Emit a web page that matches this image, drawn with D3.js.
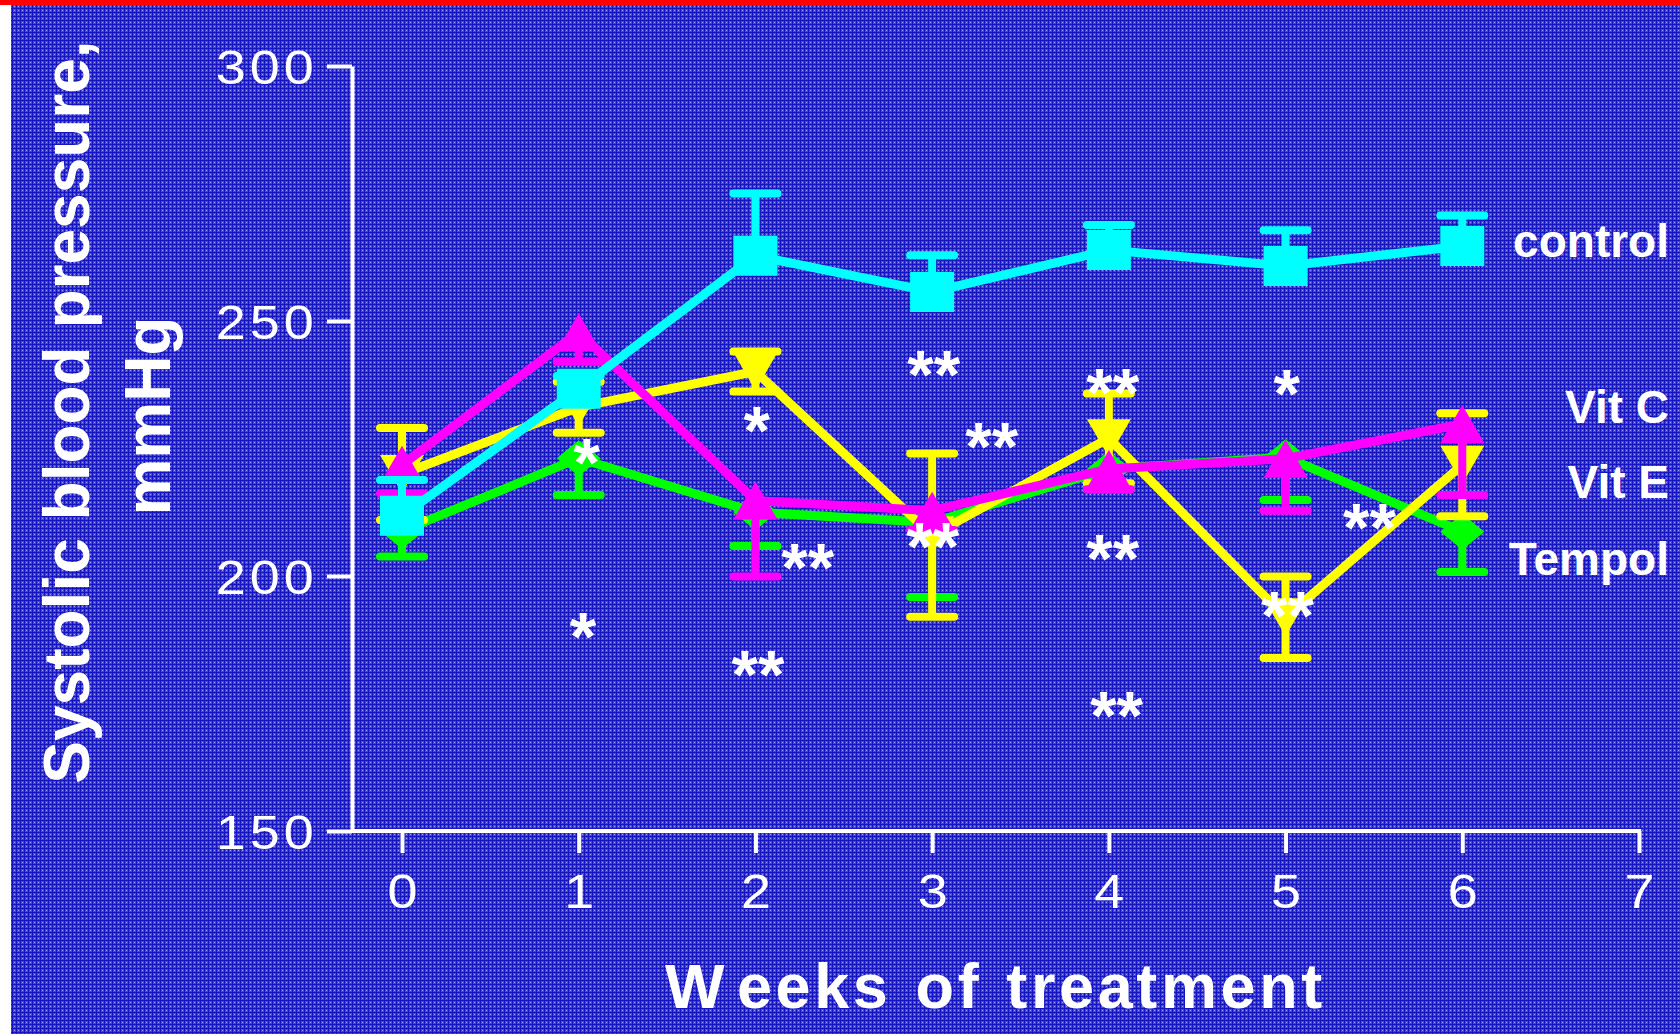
<!DOCTYPE html>
<html>
<head>
<meta charset="utf-8">
<script src="https://cdn.jsdelivr.net/npm/d3@7"></script>
<style>
  html, body { margin: 0; padding: 0; background: #ffffff; }
  svg { display: block; }
</style>
</head>
<body>
<svg id="chart" width="1680" height="1034"></svg>
<script>
// Systolic blood pressure (mmHg, mean ± SEM) over weeks of treatment
const weeks = [0, 1, 2, 3, 4, 5, 6];

const control    = [211.8, 236.7, 262.8, 255.7, 263.9, 260.8, 264.7];
const controlSem = [7.0, 2.5, 12.2, 7.2, 4.9, 7.0, 6.0];

const vitC    = [221.8, 247.8, 214.8, 212.8, 221.0, 223.0, 229.8];
const vitCSem = [5.6, 5.8, 14.9, 3.8, 4.0, 10.2, 13.9];

const vitE    = [220.0, 233.1, 240.1, 208.0, 227.0, 191.9, 221.8];
const vitESem = [9.0, 5.0, 3.9, 16.0, 8.8, 8.0, 10.1];

const tempol    = [208.8, 223.1, 212.5, 210.5, 221.0, 223.3, 208.7];
const tempolSem = [5.0, 7.2, 6.6, 14.6, 4.0, 8.4, 7.9];

// Series names and the mmHg level each name sits at, right of the plot
const seriesNames = ["control", "Vit C", "Vit E", "Tempol"];
const nameLevels  = [262.5, 230.0, 215.3, 200.2];

// Significance marks: week position, mmHg level, text
const sigWeeks  = [1.046, 1.024, 2.008, 2.296, 2.014, 3.009, 3.337, 3.003, 4.022, 4.022, 4.044, 5.006, 5.011, 5.475];
const sigLevels = [225.1, 191.0, 231.4, 204.5, 183.5, 242.4, 228.2, 208.6, 206.3, 238.8, 175.5, 238.6, 195.1, 212.4];
const sigText   = ["*", "*", "*", "**", "**", "**", "**", "**", "**", "**", "**", "*", "**", "**"];

const yTicks = [150, 200, 250, 300];
const xTicks = [0, 1, 2, 3, 4, 5, 6, 7];

// ---------------------------------------------------------------
const W = 1680, H = 1034;
const FONT = "'Liberation Sans', Arial, Helvetica, sans-serif";
const svg = d3.select("#chart");

const x = d3.scaleLinear().domain([0, 7]).range([402, 1639]);
const y = d3.scaleLinear().domain([150, 300]).range([831, 66]);
const yAxisX = x(0) - 50;

// backdrop: white strip, red top rule, textured blue field
const defs = svg.append("defs");
const pat = defs.append("pattern")
  .attr("id", "bgTex").attr("width", 4).attr("height", 4)
  .attr("patternUnits", "userSpaceOnUse");
pat.append("rect").attr("width", 4).attr("height", 4).attr("fill", "#4646dc");
pat.append("rect").attr("width", 4).attr("height", 1).attr("fill", "#1414c0");
pat.append("rect").attr("width", 1).attr("height", 4).attr("fill", "#1414c0");
pat.append("rect").attr("x", 2).attr("y", 2).attr("width", 1).attr("height", 1).attr("fill", "#9a9aff");
pat.selectAll("rect").attr("shape-rendering", "crispEdges");

svg.append("rect").attr("width", W).attr("height", H).attr("fill", "#ffffff");
svg.append("rect").attr("x", 11).attr("y", 5).attr("width", W - 11).attr("height", H - 5)
  .attr("fill", "url(#bgTex)");
svg.append("rect").attr("x", 0).attr("y", 0).attr("width", W).attr("height", 5).attr("fill", "#ff0000");

// ---------------------------------------------------------------
// axes
const yAxis = d3.axisLeft(y).tickValues(yTicks).tickFormat(d3.format("d"))
  .tickSize(25).tickSizeOuter(0).tickPadding(15);
const gy = svg.append("g").attr("transform", `translate(${yAxisX},0)`).call(yAxis);

const xAxis = d3.axisBottom(x).tickValues(xTicks).tickFormat(d3.format("d"))
  .tickSize(22).tickSizeOuter(0);
const gx = svg.append("g").attr("transform", `translate(0,${y(150)})`).call(xAxis);
gx.select(".domain").attr("d", `M${yAxisX},0H${x(7) + 2}`);

[gx, gy].forEach(g => {
  g.select(".domain").attr("stroke", "#ffffff").attr("stroke-width", 4).attr("fill", "none");
  g.selectAll(".tick line").attr("stroke", "#ffffff").attr("stroke-width", 4);
  g.selectAll(".tick text")
    .attr("fill", "#ffffff")
    .style("font-family", FONT)
    .style("font-size", "49px");
});
gy.selectAll(".tick text")
  .style("letter-spacing", "3.7px")
  .attr("x", -31)
  .attr("dy", "0.36em")
  .attr("transform", "scale(1.1,1)");
gx.selectAll(".tick text")
  .attr("y", 77)
  .attr("dy", 0)
  .attr("transform", "scale(1.1,1)");

// axis titles
const yTitle = svg.append("g").attr("fill", "#ffffff")
  .style("font-family", FONT).style("font-weight", "bold").style("font-size", "64px");
yTitle.append("text").attr("text-anchor", "middle")
  .attr("transform", "translate(89,412) rotate(-90)")
  .text("Systolic blood pressure,");
yTitle.append("text").attr("text-anchor", "middle")
  .attr("transform", "translate(170,416) rotate(-90)")
  .text("mmHg");

const xTitle = svg.append("text")
  .attr("x", 665).attr("y", 1008)
  .attr("fill", "#ffffff")
  .style("font-family", FONT).style("font-weight", "bold").style("font-size", "63px")
  .style("letter-spacing", "3.6px").style("word-spacing", "3px");
xTitle.append("tspan").text("W");
xTitle.append("tspan").attr("dx", 10).text("eeks of treatment");

// ---------------------------------------------------------------
// series
const markers = {
  square:   "M-22,-20H22V20H-22Z",
  triUp:    "M0,-19L22,19L-22,19Z",
  triDown:  "M0,19L22,-19L-22,-19Z",
  diamond:  "M0,-18L22,0L0,18L-22,0Z"
};

// drawn bottom to top
const series = [
  { values: tempol,  sem: tempolSem,  color: "#00ff00", marker: "diamond", up: false, down: true  },
  { values: vitE,    sem: vitESem,    color: "#ffff00", marker: "triDown", up: true,  down: true  },
  { values: vitC,    sem: vitCSem,    color: "#ff00ff", marker: "triUp",   up: false, down: true  },
  { values: control, sem: controlSem, color: "#00ffff", marker: "square",  up: true,  down: false }
];

const line = d3.line().x((d, i) => x(weeks[i])).y(d => y(d));

series.forEach(s => {
  const g = svg.append("g");
  g.append("path")
    .attr("d", line(s.values))
    .attr("fill", "none")
    .attr("stroke", s.color)
    .attr("stroke-width", 9)
    .attr("stroke-linejoin", "round");

  const bars = [];
  s.values.forEach((v, i) => {
    if (s.up)   bars.push({ wk: weeks[i], v, end: v + s.sem[i] });
    if (s.down) bars.push({ wk: weeks[i], v, end: v - s.sem[i] });
  });
  const eb = g.append("g").attr("stroke", s.color).attr("stroke-width", 8);
  eb.selectAll("line.stem").data(bars).join("line")
    .attr("class", "stem")
    .attr("x1", d => x(d.wk)).attr("x2", d => x(d.wk))
    .attr("y1", d => y(d.v)).attr("y2", d => y(d.end));
  eb.selectAll("line.cap").data(bars).join("line")
    .attr("class", "cap")
    .attr("stroke-linecap", "round")
    .attr("x1", d => x(d.wk) - 22).attr("x2", d => x(d.wk) + 22)
    .attr("y1", d => y(d.end)).attr("y2", d => y(d.end));

  g.selectAll("path.mk").data(s.values).join("path")
    .attr("class", "mk")
    .attr("d", markers[s.marker])
    .attr("transform", (d, i) => `translate(${x(weeks[i])},${y(d)})`)
    .attr("fill", s.color);
});

// significance marks
svg.append("g").attr("fill", "#ffffff")
  .style("font-family", FONT).style("font-weight", "bold").style("font-size", "68px")
  .selectAll("text").data(sigText).join("text")
  .attr("text-anchor", "middle")
  .attr("x", (d, i) => x(sigWeeks[i]))
  .attr("y", (d, i) => y(sigLevels[i]))
  .attr("dy", "0.56em")
  .text(d => d);

// series names
svg.append("g").attr("fill", "#ffffff")
  .style("font-family", FONT).style("font-weight", "bold").style("font-size", "46px")
  .selectAll("text").data(seriesNames).join("text")
  .attr("text-anchor", "end")
  .attr("x", 1669)
  .attr("y", (d, i) => y(nameLevels[i]))
  .text(d => d);
</script>
</body>
</html>
